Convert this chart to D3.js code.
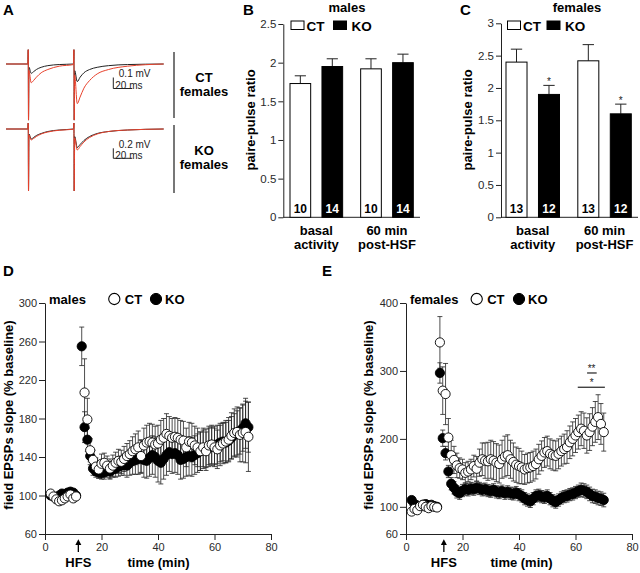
<!DOCTYPE html>
<html><head><meta charset="utf-8">
<script src="https://cdn.jsdelivr.net/npm/d3@7"></script>
<style>
body{margin:0;background:#fff;}
svg{display:block;font-family:Arial,"Liberation Sans",Helvetica,sans-serif;}
</style></head><body>
<svg id="chart" width="640" height="573"></svg>
<script>
// ---------- Panel A: example traces (ms, mV) ----------
const traceTime = [0,23,23.4,23.7,24.2,26.5,29,32,37,44,56,71,71.5,71.8,72.3,75,78,82,88,96,108,128,166];
const ctTraceBlack = [0,0,0.13,-0.51,-0.03,-0.085,-0.07,-0.05,-0.03,-0.015,-0.005,0,0.13,-0.51,-0.06,-0.16,-0.12,-0.08,-0.05,-0.03,-0.015,-0.005,0];
const ctTraceRed = [0,0,0.13,-0.51,-0.06,-0.17,-0.15,-0.12,-0.08,-0.05,-0.02,-0.005,0.13,-0.51,-0.1,-0.36,-0.3,-0.22,-0.15,-0.09,-0.05,-0.02,0];
const koTraceBlack = [0,0,0.12,-1.24,-0.1,-0.2,-0.17,-0.13,-0.09,-0.05,-0.02,0,0.12,-1.24,-0.15,-0.37,-0.31,-0.23,-0.15,-0.09,-0.05,-0.02,0];
const koTraceRed = [0,0,0.12,-1.24,-0.12,-0.22,-0.19,-0.15,-0.1,-0.06,-0.025,-0.005,0.12,-1.24,-0.18,-0.42,-0.35,-0.26,-0.17,-0.1,-0.05,-0.02,0];

// ---------- Panels B, C: paired-pulse ratio ----------
const barGroups = ["basal activity","60 min post-HSF"];
const genotypes = ["CT","KO"];
const malesMean = [1.73,1.95,1.92,2.00];
const malesSem = [0.10,0.10,0.13,0.11];
const malesN = [10,14,10,14];
const femalesMean = [2.40,1.90,2.42,1.60];
const femalesSem = [0.20,0.14,0.25,0.15];
const femalesN = [13,12,13,12];
const femalesSig = ["","*","","*"];
const malesTicks = [0,0.5,1,1.5,2,2.5];
const femalesTicks = [0,0.5,1,1.5,2,2.5,3];

// ---------- Panel D: males LTP ----------
const dTimeCT = [2,3,4,5,6,7,8,9,10,11,14,15,16,17,18,19,20,21,22,23,24,25,26,27,28,29,30,31,32,33,34,35,36,37,38,39,40,41,42,43,44,45,46,47,48,49,50,51,52,53,54,55,56,57,58,59,60,61,62,63,64,65,66,67,68,69,70,71,72];
const dCT = [102,99,96,94,95,97,99,101,97,99,
  207,179,147,137,130,127,133,134,131,128,
  131,134,136,135,138,141,143,146,148,150,
  141,152,155,156,155,153,154,158,160,164,
  162,160,161,160,158,157,150,156,155,152,
  150,146,150,146,152,153,150,148,152,154,
  156,158,162,165,166,163,165,166,161];
const dCTsem = [3,3,3,3,3,3,3,3,3,3,
  35,22,12,10,9,9,10,10,10,10,
  11,11,12,12,13,13,14,15,16,17,
  17,18,18,19,19,19,19,20,20,21,
  20,20,20,20,20,20,20,20,20,20,
  20,20,20,20,20,20,20,20,21,21,
  22,23,24,25,26,28,30,32,36];
const dTimeKO = [2,3,4,5,6,7,8,9,10,11,13,14,15,16,17,18,19,20,21,22,23,24,25,26,27,28,29,30,31,32,33,34,35,36,37,38,39,40,41,42,43,44,45,46,47,48,49,50,51,52,53,54,55,56,57,58,59,60,61,62,63,64,65,66,67,68,69,70,71,72];
const dKO = [100,99,98,100,102,101,103,104,103,100,
  255,171,158,141,128,125,124,123,124,126,
  125,127,128,130,131,132,131,134,136,137,
  138,140,137,136,139,142,140,136,134,138,
  142,145,143,144,142,137,138,140,141,140,
  142,144,146,148,149,150,151,152,153,155,
  156,155,157,160,163,165,167,170,175,171];
const dKOsem = [3,3,3,3,3,3,3,3,3,3,
  20,16,12,9,7,6,6,6,7,7,
  8,8,9,10,10,11,12,13,14,15,
  16,17,18,18,19,20,21,22,22,21,
  21,20,20,20,20,20,20,20,20,20,
  20,20,20,20,20,20,20,20,20,20,
  20,21,21,22,22,23,24,24,26,26];
const dYTicks = [60,100,140,180,220,260,300];

// ---------- Panel E: females LTP ----------
const eTime = [2,3,4,5,6,7,8,9,10,11,12,13,14,15,16,17,18,19,20,21,22,23,24,25,26,27,28,29,30,31,32,33,34,35,36,37,38,39,40,41,42,43,44,45,46,47,48,49,50,51,52,53,54,55,56,57,58,59,60,61,62,63,64,65,66,67,68,69,70];
const eCT = [93,97,95,101,103,100,98,101,100,99,
  342,271,266,202,176,169,161,157,155,150,
  152,155,160,156,165,170,168,167,170,168,
  165,163,170,174,176,170,166,162,160,158,
  155,157,158,160,163,170,175,180,182,178,
  176,175,178,182,185,188,195,200,205,210,
  215,212,205,210,218,225,232,222,210];
const eCTsem = [3,3,3,3,3,3,3,3,3,3,
  38,35,45,28,22,20,18,15,15,15,
  15,15,16,18,20,24,26,28,28,28,
  28,28,28,30,30,28,28,26,26,24,
  22,22,22,22,22,22,22,22,22,22,
  22,22,22,22,22,24,24,25,25,25,
  25,26,26,27,28,30,33,30,28];
const eKO = [110,104,102,101,103,104,102,103,101,100,
  297,201,179,152,134,128,122,120,124,126,
  125,127,126,128,127,125,126,124,123,125,
  122,121,123,120,122,120,119,121,118,116,
  112,110,108,112,116,117,115,114,116,112,
  109,107,110,113,115,116,118,119,121,123,
  125,124,122,119,116,115,113,112,110];
const eKOsem = [3,3,3,3,3,3,3,3,3,3,
  15,12,10,9,9,9,9,9,9,9,
  9,9,9,9,9,9,9,9,9,9,
  9,9,9,9,9,9,9,9,9,9,
  9,9,9,9,9,9,9,9,9,9,
  9,9,9,9,9,9,9,9,9,9,
  10,10,10,10,10,10,10,10,10];
const eYTicks = [60,100,200,300,400];
const xTicks = [0,20,40,60,80];
const eSig = {start:60.8, end:70.4, value:276, shortStart:64.1, shortEnd:67.5, shortValue:297, starTime:65.7, star1:"*", star2:"**"};

const svg = d3.select("#chart");
const TICK = "#2a2a2a";
const RED = "#e8412c";

function panelLetter(t, x, y) {
  svg.append("text").attr("x", x).attr("y", y).attr("font-size", 15).attr("font-weight", "bold").text(t);
}
function boldText(t, x, y, anchor, size) {
  return svg.append("text").attr("x", x).attr("y", y).attr("font-size", size || 13)
    .attr("font-weight", "bold").attr("text-anchor", anchor || "start").text(t);
}
function yLabel(t, x, y) {
  svg.append("text").attr("transform", `translate(${x},${y}) rotate(-90)`)
    .attr("text-anchor", "middle").attr("dominant-baseline", "central")
    .attr("font-size", 13).attr("font-weight", "bold").text(t);
}
function styleAxis(g, fs) {
  g.selectAll("path,line").attr("stroke", "#222").attr("stroke-width", 1);
  g.selectAll("text").attr("fill", TICK).attr("font-size", fs).attr("font-family", "Arial,'Liberation Sans',sans-serif");
}

// ================= Panel A =================
panelLetter("A", 3, 15);
const xT = d3.scaleLinear().domain([0, 166]).range([6, 163.7]);
const ctY = d3.scaleLinear().domain([0, -0.1]).range([64, 75]);
const koY = d3.scaleLinear().domain([0, -0.2]).range([129, 139]);
function drawTrace(vals, yS, color) {
  const line = d3.line().x((d, i) => xT(traceTime[i])).y(d => yS(d)).curve(d3.curveMonotoneX);
  svg.append("path").datum(vals).attr("d", line).attr("fill", "none").attr("stroke", color).attr("stroke-width", 1);
}
drawTrace(ctTraceBlack, ctY, "#222");
drawTrace(ctTraceRed, ctY, RED);
drawTrace(koTraceBlack, koY, "#222");
drawTrace(koTraceRed, koY, RED);
function scaleBar(x0, yb, yS, mv, lbl) {
  const h = yS(-mv) - yS(0), w = xT(20) - xT(0);
  svg.append("path").attr("d", `M${x0},${yb - h}V${yb}H${x0 + w}`).attr("fill", "none").attr("stroke", "#222").attr("stroke-width", 1);
  svg.append("text").attr("x", x0 + 5.5).attr("y", yb - h - 0.4).attr("font-size", 10).attr("fill", "#222").text(lbl);
  svg.append("text").attr("x", x0 + 2).attr("y", yb + 0.8).attr("font-size", 10).attr("fill", "#222").text("20 ms");
}
scaleBar(113.3, 88.5, ctY, 0.1, "0.1 mV");
scaleBar(113.3, 158.3, koY, 0.2, "0.2 mV");
svg.append("line").attr("x1", 174).attr("x2", 174).attr("y1", 52).attr("y2", 118).attr("stroke", "#777").attr("stroke-width", 2);
svg.append("line").attr("x1", 174).attr("x2", 174).attr("y1", 125).attr("y2", 193).attr("stroke", "#777").attr("stroke-width", 2);
boldText("CT", 204, 82, "middle");
boldText("females", 204, 96, "middle");
boldText("KO", 204, 155, "middle");
boldText("females", 204, 169, "middle");

// ================= Panels B, C =================
function barPanel(o) {
  const y = d3.scaleLinear().domain([0, o.ymax]).range([217.3, o.ytop]);
  const x0 = d3.scaleBand().domain(barGroups).range([o.x0, o.x1]).paddingInner(0.255).paddingOuter(0);
  const x1 = d3.scaleBand().domain(genotypes).range([0, x0.bandwidth()]).paddingInner(0.353).paddingOuter(0);
  const gy = svg.append("g").attr("transform", `translate(${o.axisX},0)`)
    .call(d3.axisLeft(y).tickValues(o.ticks).tickSize(5).tickSizeOuter(0).tickPadding(2).tickFormat(d => String(d)));
  styleAxis(gy, 11.5);
  svg.append("line").attr("x1", o.axisX).attr("x2", o.axisEnd).attr("y1", y(0)).attr("y2", y(0)).attr("stroke", "#222");
  const items = [];
  barGroups.forEach((g, gi) => genotypes.forEach((k, ki) => {
    const i = gi * 2 + ki;
    items.push({g, k, m: o.mean[i], s: o.sem[i], n: o.n[i], sig: o.sig ? o.sig[i] : ""});
  }));
  items.forEach(d => {
    const bx = x0(d.g) + x1(d.k), bw = x1.bandwidth(), cx = bx + bw / 2;
    svg.append("line").attr("x1", cx).attr("x2", cx).attr("y1", y(d.m)).attr("y2", y(d.m + d.s)).attr("stroke", "#222");
    svg.append("line").attr("x1", cx - bw * 0.27).attr("x2", cx + bw * 0.27).attr("y1", y(d.m + d.s)).attr("y2", y(d.m + d.s)).attr("stroke", "#222");
    svg.append("rect").attr("x", bx).attr("y", y(d.m)).attr("width", bw).attr("height", y(0) - y(d.m))
      .attr("fill", d.k === "CT" ? "#fff" : "#000").attr("stroke", "#000").attr("stroke-width", 1);
    svg.append("text").attr("x", cx).attr("y", y(0) - 4).attr("text-anchor", "middle").attr("font-size", 12)
      .attr("font-weight", "bold").attr("fill", d.k === "CT" ? "#000" : "#fff").text(d.n);
    if (d.sig) svg.append("text").attr("x", cx).attr("y", y(d.m + d.s) - 0.5).attr("text-anchor", "middle")
      .attr("font-size", 10).attr("fill", "#222").text(d.sig);
  });
  barGroups.forEach(g => {
    const cx = x0(g) + x0.bandwidth() / 2;
    const parts = g === "basal activity" ? ["basal", "activity"] : ["60 min", "post-HSF"];
    boldText(parts[0], cx, 235, "middle");
    boldText(parts[1], cx, 249, "middle");
  });
  yLabel("paire-pulse ratio", o.ylabX, 120);
  boldText(o.title, o.titleX, 12, "middle");
  // legend
  svg.append("rect").attr("x", o.legX).attr("y", 21).attr("width", 13).attr("height", 8.5).attr("fill", "#fff").attr("stroke", "#000");
  boldText("CT", o.legX + 15.5, 30.5, "start", 13.5);
  svg.append("rect").attr("x", o.legX2).attr("y", 21).attr("width", 13).attr("height", 8.5).attr("fill", "#000").attr("stroke", "#000");
  boldText("KO", o.legX2 + 18, 30.5, "start", 13.5);
}
panelLetter("B", 243, 15);
barPanel({ymax: 2.5, ytop: 24, ticks: malesTicks, x0: 290, x1: 413.3, axisX: 283.3, axisEnd: 420,
  mean: malesMean, sem: malesSem, n: malesN, title: "males", titleX: 347, ylabX: 250, legX: 291, legX2: 333.5});
panelLetter("C", 460, 15);
barPanel({ymax: 3, ytop: 23.3, ticks: femalesTicks, x0: 506, x1: 631.3, axisX: 501, axisEnd: 638,
  mean: femalesMean, sem: femalesSem, n: femalesN, sig: femalesSig, title: "females", titleX: 577, ylabX: 467, legX: 507.5, legX2: 547});

// ================= Panels D, E =================
function timePanel(o) {
  const x = d3.scaleLinear().domain([0, 80]).range([o.xl, o.xr]);
  const y = d3.scaleLinear().domain([60, o.ymax]).range([534, 303]);
  const gy = svg.append("g").attr("transform", `translate(${o.xl},0)`)
    .call(d3.axisLeft(y).tickValues(o.yticks).tickSize(6).tickSizeOuter(0).tickPadding(2));
  styleAxis(gy, 11);
  const gx = svg.append("g").attr("transform", `translate(0,534)`)
    .call(d3.axisBottom(x).tickValues(xTicks).tickSize(6).tickSizeOuter(0).tickPadding(3));
  styleAxis(gx, 11);
  const series = [
    {t: o.tKO, v: o.ko, s: o.koSem, fill: "#000"},
    {t: o.tCT, v: o.ct, s: o.ctSem, fill: "#fff"}
  ];
  series.forEach(se => {
    const g = svg.append("g").attr("stroke", "#222").attr("stroke-width", 0.8);
    se.v.forEach((v, i) => {
      const cx = x(se.t[i]), y0 = y(v - se.s[i]), y1 = y(v + se.s[i]);
      g.append("line").attr("x1", cx).attr("x2", cx).attr("y1", y0).attr("y2", y1);
      g.append("line").attr("x1", cx - 2.5).attr("x2", cx + 2.5).attr("y1", y0).attr("y2", y0);
      g.append("line").attr("x1", cx - 2.5).attr("x2", cx + 2.5).attr("y1", y1).attr("y2", y1);
    });
  });
  series.forEach(se => {
    svg.append("g").selectAll("circle").data(se.v).join("circle")
      .attr("cx", (d, i) => x(se.t[i])).attr("cy", d => y(d)).attr("r", 4.6)
      .attr("fill", se.fill).attr("stroke", "#000").attr("stroke-width", 0.9);
  });
  // legend
  boldText(o.title, o.xl + 4, 303.5);
  svg.append("circle").attr("cx", o.legC1).attr("cy", 299).attr("r", 5.6).attr("fill", "#fff").attr("stroke", "#000").attr("stroke-width", 1.1);
  boldText("CT", o.legC1 + 10.5, 303.5);
  svg.append("circle").attr("cx", o.legC2).attr("cy", 299).attr("r", 5.6).attr("fill", "#000").attr("stroke", "#000");
  boldText("KO", o.legC2 + 9, 303.5);
  // HFS arrow
  const ax = x(o.hfs);
  svg.append("line").attr("x1", ax).attr("x2", ax).attr("y1", 543).attr("y2", 552).attr("stroke", "#000").attr("stroke-width", 1.3);
  svg.append("path").attr("d", `M${ax},539.3L${ax - 3},545L${ax + 3},545Z`).attr("fill", "#000");
  boldText("HFS", ax, 567, "middle");
  boldText("time (min)", o.timeX, 567, "middle");
  yLabel("field EPSPs slope (% baseline)", o.ylabX, 415);
  if (o.sig) {
    const s = o.sig;
    svg.append("line").attr("x1", x(s.start)).attr("x2", x(s.end)).attr("y1", y(s.value)).attr("y2", y(s.value)).attr("stroke", "#222").attr("stroke-width", 1.2);
    svg.append("line").attr("x1", x(s.shortStart)).attr("x2", x(s.shortEnd)).attr("y1", y(s.shortValue)).attr("y2", y(s.shortValue)).attr("stroke", "#222").attr("stroke-width", 1.2);
    svg.append("text").attr("x", x(s.starTime)).attr("y", y(s.value) - 0.8).attr("text-anchor", "middle").attr("font-size", 10).attr("fill", "#222").text(s.star1);
    svg.append("text").attr("x", x(s.starTime)).attr("y", y(s.shortValue) - 1.2).attr("text-anchor", "middle").attr("font-size", 10).attr("fill", "#222").text(s.star2);
  }
}
panelLetter("D", 3, 276);
timePanel({xl: 45, xr: 271, ymax: 300, yticks: dYTicks, tCT: dTimeCT, ct: dCT, ctSem: dCTsem,
  tKO: dTimeKO, ko: dKO, koSem: dKOsem, title: "males", legC1: 114.3, legC2: 156,
  hfs: 11.8, timeX: 158.5, ylabX: 8.5});
panelLetter("E", 322, 276);
timePanel({xl: 406, xr: 632, ymax: 400, yticks: eYTicks, tCT: eTime, ct: eCT, ctSem: eCTsem,
  tKO: eTime, ko: eKO, koSem: eKOsem, title: "females", legC1: 476.7, legC2: 519,
  hfs: 13.4, timeX: 521.5, ylabX: 368, sig: eSig});
</script>
</body></html>
